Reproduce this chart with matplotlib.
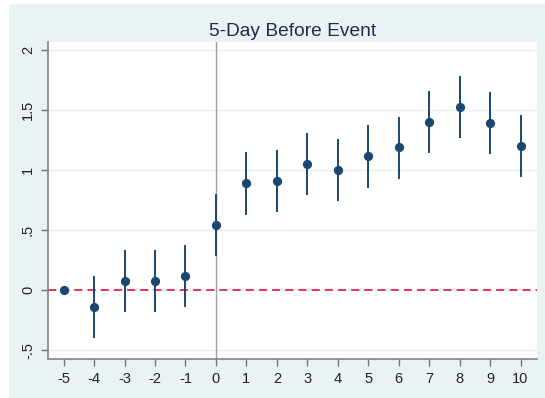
import matplotlib
matplotlib.use("Agg")
import matplotlib.pyplot as plt
from matplotlib.patches import Rectangle

# event time and estimates with 95% CI
days = [-5, -4, -3, -2, -1, 0, 1, 2, 3, 4, 5, 6, 7, 8, 9, 10]
coef = [0.0, -0.139, 0.075, 0.075, 0.117, 0.547, 0.892, 0.911, 1.05, 1.0, 1.117, 1.189, 1.4, 1.525, 1.389, 1.203]
ci_low = [0.0, -0.394, -0.18, -0.18, -0.139, 0.286, 0.631, 0.65, 0.794, 0.742, 0.856, 0.928, 1.142, 1.264, 1.131, 0.944]
ci_high = [0.0, 0.117, 0.333, 0.333, 0.375, 0.806, 1.15, 1.169, 1.311, 1.261, 1.375, 1.444, 1.661, 1.783, 1.65, 1.461]
yticks = [-0.5, 0, 0.5, 1, 1.5, 2]
ytick_labels = ["-.5", "0", ".5", "1", "1.5", "2"]

plt.rcParams["font.family"] = ["Liberation Sans", "DejaVu Sans"]
W, H = 545, 398
fig = plt.figure(figsize=(W / 100, H / 100), dpi=100, facecolor="white")
bg = "#eaf2f3"
fig.patches.append(Rectangle((9 / W, 0), 1 - 9 / W, 1 - 4 / H, transform=fig.transFigure,
                             facecolor=bg, edgecolor="none", zorder=-10))

ax = fig.add_axes([47.5 / W, 1 - 358.5 / H, (537 - 47.5) / W, (358.5 - 42) / H])
ax.set_facecolor("white")

navy = "#1a476f"
for d, lo, hi in zip(days, ci_low, ci_high):
    if hi > lo:
        ax.plot([d, d], [lo, hi], color=navy, lw=1.4, zorder=3, solid_capstyle="butt")
ax.scatter(days, coef, s=44, color=navy, zorder=4, linewidths=0)

ax.axhline(0, color="#dc2a4c", lw=1.3, ls=(0, (4.5, 2.8)), zorder=2)
ax.axvline(0, color="#a0a0a0", lw=1.0, zorder=1)

ax.set_xlim(-5.53, 10.54)
ax.set_ylim(-0.567, 2.067)
ax.set_xticks(days)
ax.set_xticklabels([str(d) for d in days])
ax.set_yticks(yticks)
ax.set_yticklabels(ytick_labels, rotation=90, va="center")
ax.grid(axis="y", color=bg, lw=1.0, zorder=0)
ax.set_axisbelow(True)

for s in ["top", "right"]:
    ax.spines[s].set_visible(False)
for s in ["left", "bottom"]:
    ax.spines[s].set_color("#777777")
    ax.spines[s].set_linewidth(1.1)
ax.tick_params(axis="both", colors="#777777", labelcolor="#222222", labelsize=10.5, length=5, width=1.0)
ax.tick_params(axis="x", pad=5)
ax.tick_params(axis="y", pad=4)

ax.set_title("5-Day Before Event", fontsize=13.8, color="#1e2d4a", pad=4)

fig.savefig("out.png", dpi=100, facecolor="white")
